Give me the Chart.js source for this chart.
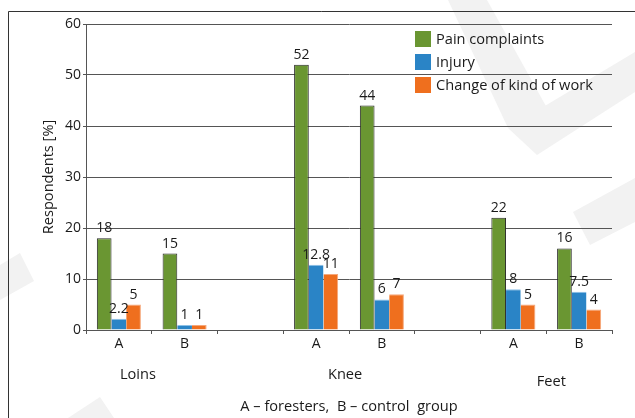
<!DOCTYPE html>
<html>
<head>
<meta charset="utf-8">
<script src="https://cdn.jsdelivr.net/npm/chart.js@4.4.0/dist/chart.umd.min.js"></script>
<style>
body { margin: 0; background: #fff; }
#wrap { width: 635px; height: 418px; }
</style>
</head>
<body>
<div id="wrap"><canvas id="myChart" width="635" height="418"></canvas></div>
<script>
// data
var categories = ["A", "B", "", "A", "B", "", "A", "B"];
var groupNames = ["Loins", "Knee", "Feet"];
var seriesNames = ["Pain complaints", "Injury", "Change of kind of work"];
var painComplaints = [18, 15, null, 52, 44, null, 22, 16];
var injury = [2.2, 1, null, 12.8, 6, null, 8, 7.5];
var changeOfWork = [5, 1, null, 11, 7, null, 5, 4];
var yMax = 60;
var yStep = 10;

var FONT = "'Open Sans', 'Noto Sans', sans-serif";
var TEXT = "#1a1a1a";
var AXIS = "#555555";
var WORD_SIZE = 14.6;   // words come out a bit wider than digits in the original

Chart.defaults.font.family = FONT;
Chart.defaults.font.size = 14;
Chart.defaults.color = TEXT;

// where the group names sit (category index + pixel nudge)
var groupPlaces = [
    { index: 0, dx: 19, dy: 45 },
    { index: 3, dx: 29, dy: 45 },
    { index: 6, dx: 38, dy: 52 }
];

// faint watermark stripes + frame line
var backdrop = {
    id: "backdrop",
    beforeDraw: function(chart) {
        var c = chart.ctx;
        c.save();
        c.fillStyle = "#fff";
        c.fillRect(0, 0, chart.width, chart.height);
        c.fillStyle = "#f2f2f2";
        var shapes = [
            [[448, 0], [487, 0], [547, 108], [508, 128]],
            [[508, 128], [635, 52], [635, 92], [537, 155]],
            [[573, 212], [635, 178], [635, 222], [590, 245]],
            [[0, 265], [20, 253], [34, 281], [0, 300]],
            [[68, 418], [100, 397], [114, 418]]
        ];
        shapes.forEach(function(s) {
            c.beginPath();
            c.moveTo(s[0][0], s[0][1]);
            for (var i = 1; i < s.length; i++) c.lineTo(s[i][0], s[i][1]);
            c.closePath();
            c.fill();
        });
        c.strokeStyle = "#333";
        c.lineWidth = 1;
        c.beginPath();
        c.moveTo(8.5, 418);
        c.lineTo(8.5, 11.5);
        c.lineTo(635, 11.5);
        c.stroke();
        c.restore();
    }
};

// numbers above the bars
var valueLabels = {
    id: "valueLabels",
    afterDatasetsDraw: function(chart) {
        var c = chart.ctx;
        c.save();
        c.font = "14px " + FONT;
        c.fillStyle = TEXT;
        c.textAlign = "center";
        c.textBaseline = "alphabetic";
        chart.data.datasets.forEach(function(ds, di) {
            var meta = chart.getDatasetMeta(di);
            meta.data.forEach(function(bar, i) {
                var v = ds.data[i];
                if (v === null) return;
                c.fillText(String(v), bar.x, bar.y - 6);
            });
        });
        c.restore();
    }
};

// legend in the upper right of the plot
var boxLegend = {
    id: "boxLegend",
    afterDraw: function(chart) {
        var c = chart.ctx;
        var a = chart.chartArea;
        var x = a.right - 197;
        var y = a.top + 7;
        c.save();
        c.font = WORD_SIZE + "px " + FONT;
        c.textBaseline = "middle";
        c.textAlign = "left";
        chart.data.datasets.forEach(function(ds, i) {
            var top = y + i * 23;
            c.fillStyle = ds.backgroundColor;
            c.fillRect(x, top, 16, 16);
            c.fillStyle = TEXT;
            c.fillText(ds.label, x + 21, top + 9);
        });
        c.restore();
    }
};

// Loins / Knee / Feet under the A-B pairs
var groupLabels = {
    id: "groupLabels",
    afterDraw: function(chart) {
        var c = chart.ctx;
        var xs = chart.scales.x;
        var bottom = chart.chartArea.bottom;
        c.save();
        c.font = WORD_SIZE + "px " + FONT;
        c.fillStyle = TEXT;
        c.textAlign = "center";
        c.textBaseline = "middle";
        groupNames.forEach(function(name, g) {
            var p = groupPlaces[g];
            c.fillText(name, xs.getPixelForValue(p.index) + p.dx, bottom + p.dy);
        });
        c.restore();
    }
};

var ctx = document.getElementById("myChart");

var myChart = new Chart(ctx, {
    type: "bar",
    data: {
        labels: categories,
        datasets: [
            {
                label: seriesNames[0],
                data: painComplaints,
                backgroundColor: "#6a9632",
                borderColor: "#2a2a2a",
                borderWidth: 1
            },
            {
                label: seriesNames[1],
                data: injury,
                backgroundColor: "#2a84c6",
                borderColor: "#8cc0e6",
                borderWidth: { top: 1, left: 0, right: 0, bottom: 0 }
            },
            {
                label: seriesNames[2],
                data: changeOfWork,
                backgroundColor: "#ef6f1e",
                borderColor: "#f6a77a",
                borderWidth: { top: 1, left: 0, right: 1, bottom: 0 }
            }
        ]
    },
    options: {
        responsive: false,
        animation: false,
        maintainAspectRatio: false,
        layout: { padding: { top: 24, right: 23, left: 0, bottom: 0 } },
        datasets: {
            bar: { barPercentage: 1, categoryPercentage: 0.67 }
        },
        plugins: {
            legend: { display: false },
            tooltip: { enabled: false }
        },
        scales: {
            x: {
                grid: {
                    display: true,
                    offset: true,
                    drawOnChartArea: false,
                    color: AXIS,
                    tickLength: 4
                },
                border: { display: true, color: AXIS, width: 1 },
                ticks: { padding: 2, color: TEXT, font: { size: 14 }, maxRotation: 0, autoSkip: false },
                title: {
                    display: true,
                    text: "A \u2013 foresters,  B \u2013 control  group",
                    color: TEXT,
                    font: { size: WORD_SIZE },
                    padding: { top: 0, bottom: 2 }
                },
                afterFit: function(scale) { scale.height = 88; }
            },
            y: {
                min: 0,
                max: yMax,
                ticks: { stepSize: yStep, padding: 2, color: TEXT, font: { size: 14 } },
                grid: { color: AXIS, tickLength: 3 },
                border: { display: true, color: AXIS, width: 1 },
                title: {
                    display: true,
                    text: "Respondents [%]",
                    color: TEXT,
                    font: { size: WORD_SIZE },
                    padding: { top: 40, bottom: 0 }
                },
                afterFit: function(scale) { scale.width = 86; }
            }
        }
    },
    plugins: [backdrop, valueLabels, boxLegend, groupLabels]
});
</script>
</body>
</html>
